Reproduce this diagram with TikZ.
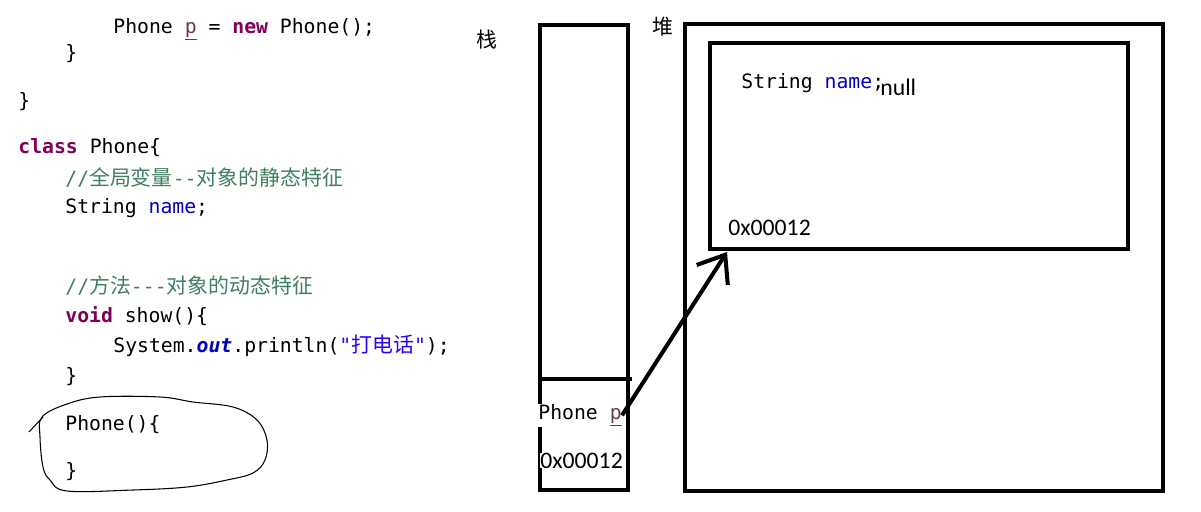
\documentclass[tikz,border=0pt]{standalone}
\usepackage{fontspec}
\setmonofont{DejaVu Sans Mono}
\newfontfamily\cjk{Noto Sans CJK SC}
\newfontfamily\labelfont{Carlito}
\usetikzlibrary{arrows.meta}
\usetikzlibrary{positioning}
\newcommand{\zh}[1]{{\cjk\fontsize{11.9pt}{14pt}\selectfont #1}}

\begin{document}
\begin{tikzpicture}[x=0.02cm,y=-0.02cm,
	code/.style={anchor=base west,inner sep=0pt,font=\ttfamily\fontsize{11.25pt}{14pt}\selectfont},
	addr/.style={anchor=base west,inner sep=0pt,font=\labelfont\fontsize{13.5pt}{16pt}\selectfont},
	mem/.style={draw,line width=2.3pt,inner sep=0pt},
	ptr/.style={line width=2.3pt,-{Straight Barb[length=4.8mm,width=7.4mm]}}]
	
	\definecolor{kwpurple}{RGB}{127,0,85}
	\definecolor{fieldblue}{RGB}{0,0,192}
	\definecolor{cmtgreen}{RGB}{63,127,95}
	\definecolor{strblue}{RGB}{42,0,255}
	\definecolor{varbrown}{RGB}{106,62,62}
	
	\useasboundingbox (0,0) rectangle (1201,511);
	
	% code
	\node[code] (l1) at (113,33) {Phone \textcolor{varbrown}{\underline{p}} = \textcolor{kwpurple}{\textbf{new}} Phone();};
	\node[code] (l2) at (65,59) {\}};
	\node[code] (l3) at (18,107) {\}};
	\node[code] (l4) at (18,153) {\textcolor{kwpurple}{\textbf{class}} Phone\{};
	\node[code,text=cmtgreen] (l5) at (65,185) {//\zh{全局变量}--\zh{对象的静态特征}};
	\node[code] (l6) at (65,213) {String \textcolor{fieldblue}{name};};
	\node[code,text=cmtgreen] (l7) at (65,293) {//\zh{方法}---\zh{对象的动态特征}};
	\node[code] (l8) at (65,322) {\textcolor{kwpurple}{\textbf{void}} show()\{};
	\node[code] (l9) at (113,352) {System.\textcolor{fieldblue}{\textbf{\textit{out}}}.println(\textcolor{strblue}{"\zh{打电话}"});};
	\node[code] (l10) at (65,382) {\}};
	\node[code] (l11) at (65,430) {Phone()\{};
	\node[code] (l12) at (65,477) {\}};
	
	\draw[line width=0.6pt] plot[smooth cycle,tension=0.6] coordinates {(42,417) (67,404) (100,397) (160,397) (193,402) (233,407) (257,420) (267,440) (265,460) (253,473) (227,480) (187,487) (133,490) (67,491) (50,480) (43,467) (40,437)};
	\draw[line width=0.6pt] (29,432) -- (43,417);
	
	% memory
	\node (stacklbl) at (487,40) {\zh{栈}};
	\node (heaplbl) at (663,27) {\zh{堆}};
	\node[mem,minimum width=1.76cm,minimum height=9.3cm] (stack) at (584,257.5) {};
	\node[mem,minimum width=9.56cm,minimum height=9.34cm] (heap) at (924,257.5) {};
	\node[mem,minimum width=8.36cm,minimum height=4.12cm] (obj) at (919,146) {};
	\coordinate (split) at (584,379);
	\draw[line width=2.3pt] (stack.west |- split) -- ([xshift=1pt]stack.east |- split);
	
	\node[code] (field) at (741,88) {String \textcolor{fieldblue}{name};};
	\node[addr] (nullval) at (880,95) {null};
	\node[addr] (objaddr) at (728,235) {0x00012};
	\node[code,fill=white] (pvar) at (538,419) {Phone \textcolor{varbrown}{\underline{p}}};
	\node[addr,fill=white] (paddr) at (540,468) {0x00012};
	
	\coordinate (tip) at (727,252);
	\draw[ptr] (pvar.east) -- (tip);
\end{tikzpicture}
\end{document}
